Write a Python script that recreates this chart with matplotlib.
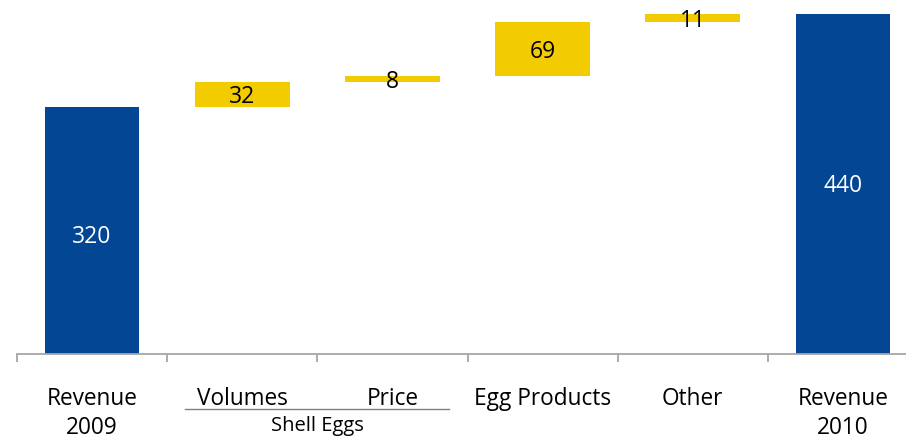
import matplotlib
matplotlib.use("Agg")
import matplotlib.pyplot as plt
import matplotlib.lines as mlines
from matplotlib.transforms import blended_transform_factory

# Revenue bridge 2009 -> 2010
categories = ["Revenue\n2009", "Volumes", "Price", "Egg Products", "Other", "Revenue\n2010"]
start_total = 320
changes = [32, 8, 69, 11]
end_total = 440
group_label = "Shell Eggs"

BLUE = "#034694"
YELLOW = "#F2CB00"
AXIS_GRAY = "#A6A6A6"

plt.rcParams["font.family"] = ["Open Sans", "DejaVu Sans"]

W, H = 906, 441
fig = plt.figure(figsize=(W / 100, H / 100), dpi=100)
ax = fig.add_axes([17 / W, (H - 354) / H, 901 / W, 354 / H])

x = list(range(len(categories)))
width = 0.63

# totals
ax.bar(x[0], start_total, width=width, color=BLUE)
ax.bar(x[-1], end_total, width=width, color=BLUE)
ax.text(x[0], start_total / 2 - 8, f"{start_total}", color="white",
        ha="center", va="center", fontsize=16.5)
ax.text(x[-1], end_total / 2 - 2, f"{end_total}", color="white",
        ha="center", va="center", fontsize=16.5)

# floating increments
level = start_total
for i, d in enumerate(changes, start=1):
    ax.bar(x[i], d, bottom=level, width=width, color=YELLOW)
    ax.text(x[i], level + d / 2 - 3.5, f"{d}", color="black",
            ha="center", va="center", fontsize=16.5)
    level += d

ax.set_xlim(-0.5, len(categories) - 0.5)
ax.set_ylim(0, 458)

for s in ["top", "right", "left"]:
    ax.spines[s].set_visible(False)
ax.spines["bottom"].set_color(AXIS_GRAY)
ax.spines["bottom"].set_linewidth(1.3)
ax.set_yticks([])

# ticks at category boundaries
ax.set_xticks([i - 0.5 for i in range(len(categories) + 1)])
ax.set_xticklabels([])
ax.tick_params(axis="x", direction="out", length=6, width=1.3, color=AXIS_GRAY)

# labels placed in data-x / figure-y coordinates
tr = blended_transform_factory(ax.transData, fig.transFigure)

def fy(py):
    return (H - py) / H

for i, lab in enumerate(categories):
    lines = lab.split("\n")
    ax.text(i, fy(399), lines[0], ha="center", va="center", fontsize=16.3,
            transform=tr)
    if len(lines) > 1:
        ax.text(i, fy(428.5), lines[1], ha="center", va="center", fontsize=16.3,
                transform=tr)

# group bracket under Volumes / Price
ax.add_line(mlines.Line2D([0.62, 2.38], [fy(409), fy(409)], color="#808080",
                          linewidth=1.0, clip_on=False, transform=tr))
ax.text(1.5, fy(426), group_label, ha="center", va="center", fontsize=14.5,
        transform=tr)

fig.savefig("out.png", dpi=100)
